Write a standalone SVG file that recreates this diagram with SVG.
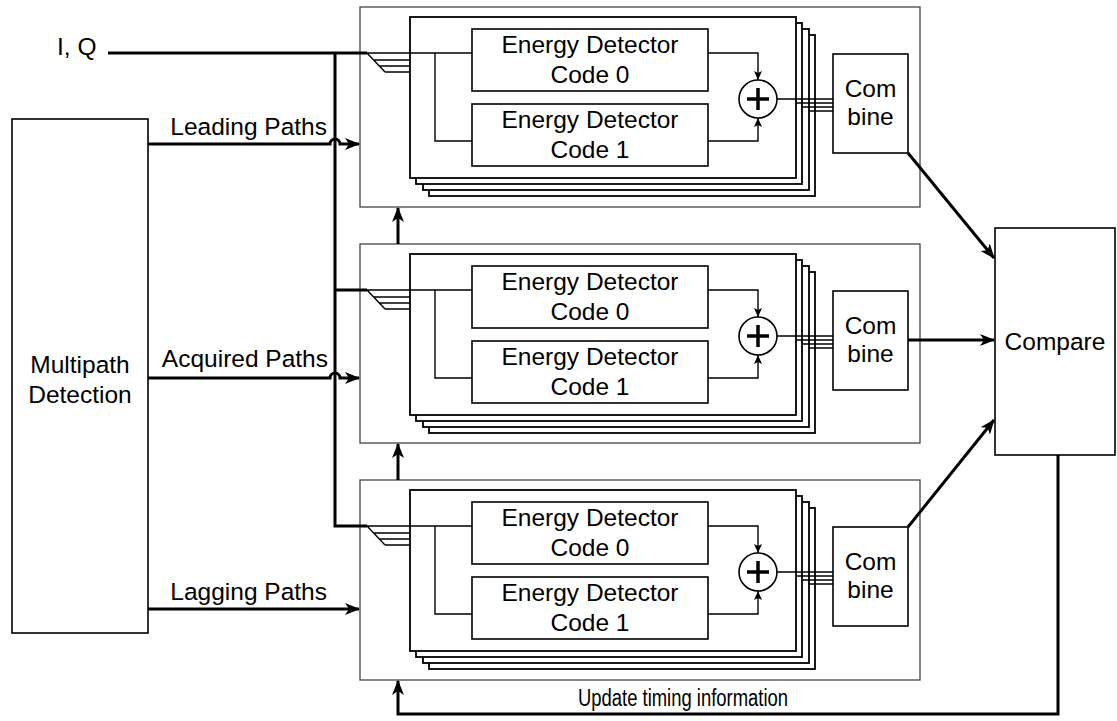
<svg xmlns="http://www.w3.org/2000/svg" width="1117" height="721" viewBox="0 0 1117 721">
  <style>
    .t { font-family: "Liberation Sans", Arial, sans-serif; font-size: 24.5px; fill: #000; text-anchor: middle; }
    .te { text-anchor: end; }
    .ts { text-anchor: start; }
    .frame { fill: #fff; stroke: #444; stroke-width: 1.3; }
    .card { fill: #fff; stroke: #000; stroke-width: 1.8; }
    .box { fill: #fff; stroke: #000; stroke-width: 1.6; }
    .wire { fill: none; stroke: #000; stroke-width: 1.4; }
    .bus { fill: none; stroke: #000; stroke-width: 3; }
    .sum { fill: #fff; stroke: #000; stroke-width: 1.6; }
    .plus { fill: none; stroke: #000; stroke-width: 3.5; }
  </style>
  <defs>
    <marker id="ah" markerUnits="userSpaceOnUse" markerWidth="15" markerHeight="12" refX="14" refY="6" orient="auto">
      <path d="M0,0 L15,6 L0,12 L4,6 z" fill="#000"/>
    </marker>
    <marker id="ahs" markerUnits="userSpaceOnUse" markerWidth="9" markerHeight="8" refX="9" refY="4" orient="auto">
      <path d="M0,0 L9,4 L0,8 L2,4 z" fill="#000"/>
    </marker>
  </defs>
  <rect width="1117" height="721" fill="#fff"/>

  <!-- multipath detector -->
  <g id="multipath">
    <rect class="box" x="12" y="119" width="136" height="514"/>
    <text class="t" x="80" y="373">Multipath</text>
    <text class="t" x="80" y="403">Detection</text>
  </g>

  <!-- correlator bank: leading paths -->
  <g id="bank-leading">
    <rect class="frame" x="360" y="7" width="560" height="200"/>
    <rect class="card" x="429" y="35" width="386" height="161"/>
    <rect class="card" x="423" y="29" width="386" height="161"/>
    <rect class="card" x="416" y="23" width="386" height="161"/>
    <rect class="card" x="410" y="17" width="386" height="161"/>
    <path class="wire" d="M367,53 H472 M367,53 L385,72 M373.6,60 H410 M379.3,66 H410 M385,72 H410 M435,53 V141 H472"/>
    <rect class="box" x="472" y="29" width="236" height="62"/>
    <text class="t" x="590" y="53">Energy Detector</text>
    <text class="t" x="590" y="82.5">Code 0</text>
    <rect class="box" x="472" y="104" width="236" height="62"/>
    <text class="t" x="590" y="128">Energy Detector</text>
    <text class="t" x="590" y="157.5">Code 1</text>
    <path class="wire" d="M708,53 H758 V80" marker-end="url(#ahs)"/>
    <path class="wire" d="M708,141 H758 V118" marker-end="url(#ahs)"/>
    <circle class="sum" cx="758" cy="99" r="19"/>
    <path class="plus" d="M747,99 H769 M758,88 V110"/>
    <path class="wire" d="M777,99 H833 M796,103 H833 M802,107 H833 M809,111 H833"/>
    <rect class="box" x="833" y="54" width="75" height="99"/>
    <text class="t" x="870.5" y="97">Com</text>
    <text class="t" x="870.5" y="125">bine</text>
  </g>

  <!-- correlator bank: acquired paths -->
  <g id="bank-acquired" transform="translate(0,237)">
    <rect class="frame" x="360" y="7" width="560" height="199"/>
    <rect class="card" x="429" y="35" width="386" height="161"/>
    <rect class="card" x="423" y="29" width="386" height="161"/>
    <rect class="card" x="416" y="23" width="386" height="161"/>
    <rect class="card" x="410" y="17" width="386" height="161"/>
    <path class="wire" d="M367,53 H472 M367,53 L385,72 M373.6,60 H410 M379.3,66 H410 M385,72 H410 M435,53 V141 H472"/>
    <rect class="box" x="472" y="29" width="236" height="62"/>
    <text class="t" x="590" y="53">Energy Detector</text>
    <text class="t" x="590" y="82.5">Code 0</text>
    <rect class="box" x="472" y="104" width="236" height="62"/>
    <text class="t" x="590" y="128">Energy Detector</text>
    <text class="t" x="590" y="157.5">Code 1</text>
    <path class="wire" d="M708,53 H758 V80" marker-end="url(#ahs)"/>
    <path class="wire" d="M708,141 H758 V118" marker-end="url(#ahs)"/>
    <circle class="sum" cx="758" cy="99" r="19"/>
    <path class="plus" d="M747,99 H769 M758,88 V110"/>
    <path class="wire" d="M777,99 H833 M796,103 H833 M802,107 H833 M809,111 H833"/>
    <rect class="box" x="833" y="54" width="75" height="99"/>
    <text class="t" x="870.5" y="97">Com</text>
    <text class="t" x="870.5" y="125">bine</text>
  </g>

  <!-- correlator bank: lagging paths -->
  <g id="bank-lagging" transform="translate(0,473)">
    <rect class="frame" x="360" y="7" width="560" height="200"/>
    <rect class="card" x="429" y="35" width="386" height="161"/>
    <rect class="card" x="423" y="29" width="386" height="161"/>
    <rect class="card" x="416" y="23" width="386" height="161"/>
    <rect class="card" x="410" y="17" width="386" height="161"/>
    <path class="wire" d="M367,53 H472 M367,53 L385,72 M373.6,60 H410 M379.3,66 H410 M385,72 H410 M435,53 V141 H472"/>
    <rect class="box" x="472" y="29" width="236" height="62"/>
    <text class="t" x="590" y="53">Energy Detector</text>
    <text class="t" x="590" y="82.5">Code 0</text>
    <rect class="box" x="472" y="104" width="236" height="62"/>
    <text class="t" x="590" y="128">Energy Detector</text>
    <text class="t" x="590" y="157.5">Code 1</text>
    <path class="wire" d="M708,53 H758 V80" marker-end="url(#ahs)"/>
    <path class="wire" d="M708,141 H758 V118" marker-end="url(#ahs)"/>
    <circle class="sum" cx="758" cy="99" r="19"/>
    <path class="plus" d="M747,99 H769 M758,88 V110"/>
    <path class="wire" d="M777,99 H833 M796,103 H833 M802,107 H833 M809,111 H833"/>
    <rect class="box" x="833" y="54" width="75" height="99"/>
    <text class="t" x="870.5" y="97">Com</text>
    <text class="t" x="870.5" y="125">bine</text>
  </g>

  <!-- comparator -->
  <g id="compare">
    <rect class="box" x="995" y="228" width="120" height="227"/>
    <text class="t" x="1055" y="350">Compare</text>
  </g>

  <!-- connectors -->
  <g id="connectors">
    <text class="t ts" x="57" y="55">I, Q</text>
    <!-- I/Q input trunk feeding all three banks -->
    <path class="bus" d="M108,53 H367 M335,53 V526 H367 M335,290 H367"/>
    <!-- path lists from the multipath detector (hop over the trunk) -->
    <path class="bus" d="M148,144 H330 A5,5 0 0 1 340,144 H359" marker-end="url(#ah)"/>
    <text class="t te" x="327" y="135">Leading Paths</text>
    <path class="bus" d="M148,378 H330 A5,5 0 0 1 340,378 H359" marker-end="url(#ah)"/>
    <text class="t te" x="328" y="367">Acquired Paths</text>
    <path class="bus" d="M148,609 H359" marker-end="url(#ah)"/>
    <text class="t te" x="327" y="600">Lagging Paths</text>
    <!-- timing hand-off between banks -->
    <path class="bus" d="M398,244 V208" marker-end="url(#ah)"/>
    <path class="bus" d="M398,480 V444" marker-end="url(#ah)"/>
    <!-- combiner outputs into the comparator -->
    <path class="bus" d="M908,153 L994,258" marker-end="url(#ah)"/>
    <path class="bus" d="M908,340 H994" marker-end="url(#ah)"/>
    <path class="bus" d="M908,527 L994,420" marker-end="url(#ah)"/>
    <!-- timing feedback -->
    <path class="bus" d="M1058,455 V714 H398 V681" marker-end="url(#ah)"/>
    <text class="t ts" x="578" y="706" style="font-size:23px" textLength="210" lengthAdjust="spacingAndGlyphs">Update timing information</text>
  </g>
</svg>
